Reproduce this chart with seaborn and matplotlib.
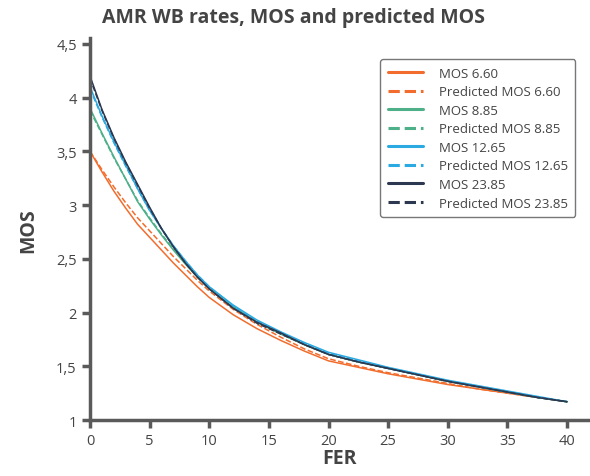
import numpy as np
import pandas as pd
import matplotlib.pyplot as plt
import matplotlib.ticker as mticker
import seaborn as sns

# FER sample points
fer = [0, 1, 2, 3, 4, 5, 6, 7, 8, 9, 10, 12, 14, 16, 18, 20, 22.5, 25, 27.5, 30, 32.5, 35, 37.5, 40]

mos_660 = [3.50, 3.31, 3.13, 2.97, 2.82, 2.70, 2.58, 2.46, 2.35, 2.24, 2.14, 1.98, 1.85, 1.74, 1.64, 1.55,
           1.49, 1.43, 1.38, 1.33, 1.29, 1.25, 1.21, 1.17]
pred_660 = [3.50, 3.33, 3.17, 3.02, 2.88, 2.76, 2.64, 2.52, 2.41, 2.30, 2.20, 2.03, 1.89, 1.77, 1.66, 1.57,
            1.50, 1.44, 1.39, 1.34, 1.29, 1.25, 1.21, 1.17]
mos_885 = [3.90, 3.67, 3.45, 3.24, 3.03, 2.87, 2.72, 2.58, 2.45, 2.33, 2.22, 2.05, 1.91, 1.80, 1.70, 1.61,
           1.54, 1.48, 1.42, 1.36, 1.31, 1.26, 1.21, 1.17]
pred_885 = [3.88, 3.66, 3.44, 3.24, 3.04, 2.88, 2.73, 2.59, 2.46, 2.34, 2.23, 2.06, 1.91, 1.80, 1.70, 1.61,
            1.54, 1.48, 1.42, 1.36, 1.31, 1.26, 1.21, 1.17]
mos_1265 = [4.10, 3.83, 3.59, 3.37, 3.15, 2.95, 2.78, 2.62, 2.48, 2.35, 2.24, 2.07, 1.93, 1.82, 1.72, 1.63,
            1.56, 1.49, 1.43, 1.37, 1.32, 1.27, 1.22, 1.17]
pred_1265 = [4.08, 3.82, 3.58, 3.36, 3.15, 2.95, 2.78, 2.62, 2.48, 2.35, 2.24, 2.06, 1.92, 1.81, 1.71, 1.62,
             1.55, 1.48, 1.42, 1.36, 1.31, 1.26, 1.21, 1.17]
mos_2385 = [4.20, 3.89, 3.63, 3.40, 3.19, 2.98, 2.78, 2.61, 2.46, 2.33, 2.22, 2.04, 1.91, 1.81, 1.70, 1.61,
            1.54, 1.48, 1.42, 1.36, 1.31, 1.26, 1.21, 1.17]
pred_2385 = [4.18, 3.88, 3.62, 3.39, 3.18, 2.97, 2.78, 2.61, 2.46, 2.33, 2.22, 2.04, 1.90, 1.80, 1.70, 1.61,
             1.54, 1.48, 1.42, 1.36, 1.31, 1.26, 1.21, 1.17]

series = [
    ('MOS 6.60', mos_660, '#F26D2D', '-'),
    ('Predicted MOS 6.60', pred_660, '#F26D2D', '--'),
    ('MOS 8.85', mos_885, '#4DB088', '-'),
    ('Predicted MOS 8.85', pred_885, '#4DB088', '--'),
    ('MOS 12.65', mos_1265, '#2BAAE2', '-'),
    ('Predicted MOS 12.65', pred_1265, '#2BAAE2', '--'),
    ('MOS 23.85', mos_2385, '#2C3850', '-'),
    ('Predicted MOS 23.85', pred_2385, '#2C3850', '--'),
]

sns.set_style('ticks')
plt.rcParams['font.family'] = ['Open Sans', 'DejaVu Sans']

fig = plt.figure(figsize=(5.9, 4.77), dpi=100)
ax = fig.add_axes([0.1525, 0.1174, 0.845, 0.8])

for name, vals, col, ls in series:
    df = pd.DataFrame({'FER': fer, 'MOS': vals})
    sns.lineplot(data=df, x='FER', y='MOS', ax=ax, color=col, linestyle=ls,
                 linewidth=1.1, label=name)

ax.set_xlim(0, 41.8)
ax.set_ylim(1, 4.55)
ax.set_xticks(range(0, 41, 5))
ax.set_yticks(np.arange(1, 4.51, 0.5))
ax.yaxis.set_major_formatter(mticker.FuncFormatter(lambda v, p: f'{v:g}'.replace('.', ',')))

sns.despine(ax=ax)
for s in ['left', 'bottom']:
    ax.spines[s].set_color('#5a5a5a')
    ax.spines[s].set_linewidth(2.5)
ax.tick_params(axis='both', color='#5a5a5a', width=2.5, length=6, labelsize=10.5, labelcolor='#444444')

ax.set_xlabel('FER', fontsize=14, fontweight='bold', color='#444444', labelpad=0)
ax.set_ylabel('MOS', fontsize=14, fontweight='bold', color='#444444', labelpad=13)
fig.text(0.497, 0.962, 'AMR WB rates, MOS and predicted MOS', fontsize=14, fontweight='bold',
         color='#444444', ha='center', va='center')

leg = ax.legend(loc='upper right', bbox_to_anchor=(0.987, 0.962), fontsize=9.5,
                frameon=True, fancybox=True, edgecolor='#555555', labelspacing=0.42,
                handlelength=2.7, handletextpad=1.2, borderpad=0.55)
leg.get_frame().set_linewidth(1.0)
for h in leg.get_lines():
    h.set_linewidth(2.2)
for t in leg.get_texts():
    t.set_color('#444444')

fig.savefig('out.png', dpi=100)
